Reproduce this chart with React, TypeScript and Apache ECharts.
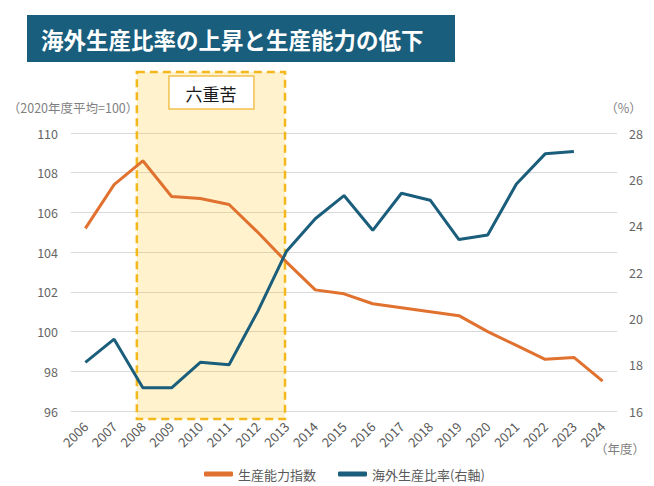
import React, { useEffect, useRef } from "react";
import * as echarts from "echarts";

const years = ["2006","2007","2008","2009","2010","2011","2012","2013","2014","2015","2016","2017","2018","2019","2020","2021","2022","2023","2024"];
const capacityIndex = [105.2,107.4,108.6,106.8,106.7,106.4,105.0,103.5,102.1,101.9,101.4,101.2,101.0,100.8,100.0,99.3,98.6,98.7,97.5];
const overseasRatio = [18.1,19.1,17.0,17.0,18.1,18.0,20.3,22.9,24.3,25.3,23.8,25.4,25.1,23.4,23.6,25.8,27.1,27.2,null];
const leftTicks = { min: 96, max: 110, interval: 2 };
const rightTicks = { min: 16, max: 28, interval: 2 };
const seriesNames = ["生産能力指数", "海外生産比率(右軸)"];
const titleText = "海外生産比率の上昇と生産能力の低下";
const shadeLabel = "六重苦";
const shadeFrom = "2008";
const shadeTo = "2013";

const FONT = "'Noto Sans CJK JP', 'Noto Sans', sans-serif";
const ORANGE = "#e0712f";
const BLUE = "#1b5e7b";
const GRAY = "#666666";

export default function App() {
  const ref = useRef<HTMLDivElement>(null);
  useEffect(() => {
    document.body.style.margin = "0";
    document.body.style.overflow = "hidden";
    const chart = echarts.init(ref.current!, null, { renderer: "svg" });
    chart.setOption({
      animation: false,
      backgroundColor: "#ffffff",
      textStyle: { fontFamily: FONT },
      grid: { left: 71, right: 37, top: 133, bottom: 75, containLabel: false },
      legend: {
        left: 199,
        top: 461,
        icon: "roundRect",
        itemWidth: 29,
        itemHeight: 5,
        itemGap: 22,
        textStyle: { fontSize: 13, color: "#595959", fontFamily: FONT, lineHeight: 16 },
        data: seriesNames,
      },
      xAxis: {
        type: "category",
        data: years,
        boundaryGap: true,
        axisLine: { show: false },
        axisTick: { show: false },
        axisLabel: { rotate: 45, fontSize: 13, color: "#595959", margin: 13, interval: 0, fontFamily: FONT },
      },
      yAxis: [
        {
          type: "value",
          ...leftTicks,
          axisLine: { show: false },
          axisTick: { show: false },
          axisLabel: { fontSize: 12.5, color: GRAY, margin: 13, fontFamily: FONT },
          splitLine: { lineStyle: { color: "#d9d9d9", width: 1 } },
        },
        {
          type: "value",
          ...rightTicks,
          axisLine: { show: false },
          axisTick: { show: false },
          axisLabel: { fontSize: 12.5, color: GRAY, margin: 12, fontFamily: FONT },
          splitLine: { show: false },
        },
      ],
      series: [
        {
          name: seriesNames[0],
          type: "line",
          data: capacityIndex,
          yAxisIndex: 0,
          symbol: "none",
          lineStyle: { color: ORANGE, width: 3 },
          itemStyle: { color: ORANGE },
          z: 3,
        },
        {
          name: seriesNames[1],
          type: "line",
          data: overseasRatio,
          yAxisIndex: 1,
          symbol: "none",
          lineStyle: { color: BLUE, width: 3 },
          itemStyle: { color: BLUE },
          z: 4,
        },
      ],
    });

    const x0 = (chart.convertToPixel({ xAxisIndex: 0 }, shadeFrom) as number) - 6;
    const x1 = (chart.convertToPixel({ xAxisIndex: 0 }, shadeTo) as number) - 1.5;
    const yTop = 72;
    const yBottom = 419;
    const cx = (x0 + x1) / 2;

    chart.setOption({
      graphic: [
        {
          type: "rect",
          shape: { x: 27, y: 15, width: 428, height: 47 },
          style: { fill: "#1a5e7d" },
          z: 10,
        },
        {
          type: "text",
          x: 41,
          y: 39,
          style: {
            text: titleText,
            fill: "#ffffff",
            font: `bold 22.5px ${FONT}`,
            verticalAlign: "middle",
            align: "left",
          },
          z: 11,
        },
        {
          type: "rect",
          shape: { x: x0, y: yTop, width: x1 - x0, height: yBottom - yTop },
          style: { fill: "rgba(255,192,0,0.2)", stroke: "#f4b71c", lineWidth: 2.5, lineDash: [8, 5] },
          z: 1,
          silent: true,
        },
        {
          type: "rect",
          shape: { x: cx - 42, y: 76, width: 85, height: 33 },
          style: { fill: "#ffffff", stroke: "#f2c14e", lineWidth: 1.5 },
          z: 12,
        },
        {
          type: "text",
          x: cx,
          y: 93,
          style: {
            text: shadeLabel,
            fill: "#1a1a1a",
            font: `17px ${FONT}`,
            align: "center",
            verticalAlign: "middle",
          },
          z: 13,
        },
        {
          type: "text",
          x: 73,
          y: 107,
          style: {
            text: "（2020年度平均=100）",
            fill: "#7f7f7f",
            font: `12.5px ${FONT}`,
            align: "center",
            verticalAlign: "middle",
          },
          z: 13,
        },
        {
          type: "text",
          x: 623.5,
          y: 107,
          style: {
            text: "（%）",
            fill: "#7f7f7f",
            font: `12.5px ${FONT}`,
            align: "center",
            verticalAlign: "middle",
          },
          z: 13,
        },
        {
          type: "text",
          x: 620,
          y: 448,
          style: {
            text: "（年度）",
            fill: "#7f7f7f",
            font: `12.5px ${FONT}`,
            align: "center",
            verticalAlign: "middle",
          },
          z: 13,
        },
      ],
    });

    return () => chart.dispose();
  }, []);
  return <div ref={ref} style={{ width: 654, height: 486 }} />;
}
